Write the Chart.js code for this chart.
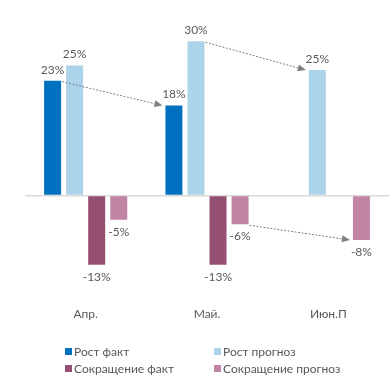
<!DOCTYPE html>
<html>
<head>
<meta charset="utf-8">
<script src="https://cdn.jsdelivr.net/npm/chart.js@4"></script>
<style>
  body { margin: 0; background: #fff; }
  #wrap { position: relative; width: 389px; height: 384px; }
  #legend { position: absolute; left: 65px; top: 344px; display: grid;
    grid-template-columns: 149px 160px; row-gap: 3px;
    font: 12px Lato, sans-serif; color: #595959; }
  #legend span.item { display: flex; align-items: center; height: 14px; white-space: nowrap; }
  #legend i { display: inline-block; width: 7px; height: 7px; margin-right: 2px; }
</style>
</head>
<body>
<div id="wrap">
  <canvas id="chart" width="389" height="384"></canvas>
  <div id="legend"></div>
</div>
<script>
var categories = ["Апр.", "Май.", "Июн.П"];
var growthFact = [22.7, 17.8, null];
var growthForecast = [25.7, 30.5, 24.8];
var cutFact = [-13.7, -13.7, null];
var cutForecast = [-4.8, -5.7, -8.8];
var growthFactText = ["23%", "18%", ""];
var growthForecastText = ["25%", "30%", "25%"];
var cutFactText = ["-13%", "-13%", ""];
var cutForecastText = ["-5%", "-6%", "-8%"];
// arrows: [dataset, from index, to index]
var arrows = [[0, 0, 1], [1, 1, 2], [3, 1, 2]];

var labelPlugin = {
  id: "barLabels",
  afterDatasetsDraw: function (chart) {
    var ctx = chart.ctx;
    ctx.save();
    ctx.font = "12px Lato, sans-serif";
    ctx.fillStyle = "#595959";
    ctx.textAlign = "center";
    ctx.textBaseline = "middle";
    chart.data.datasets.forEach(function (ds, i) {
      chart.getDatasetMeta(i).data.forEach(function (bar, j) {
        var txt = ds.texts[j];
        if (!txt || ds.data[j] == null) return;
        var y = ds.data[j] >= 0 ? bar.y - 11 : bar.y + 12;
        ctx.fillText(txt, bar.x, y);
      });
    });
    // dotted arrows
    ctx.strokeStyle = "#808080";
    ctx.fillStyle = "#808080";
    ctx.lineWidth = 1;
    arrows.forEach(function (a) {
      var b1 = chart.getDatasetMeta(a[0]).data[a[1]];
      var b2 = chart.getDatasetMeta(a[0]).data[a[2]];
      var x1 = b1.x + b1.width / 2 + 1, y1 = b1.y + 1;
      var x2 = b2.x - b2.width / 2 - 3, y2 = b2.y;
      var ang = Math.atan2(y2 - y1, x2 - x1);
      var hx = x2 - 8 * Math.cos(ang), hy = y2 - 8 * Math.sin(ang);
      ctx.setLineDash([2, 1.5]);
      ctx.beginPath();
      ctx.moveTo(x1, y1);
      ctx.lineTo(hx, hy);
      ctx.stroke();
      ctx.setLineDash([]);
      ctx.beginPath();
      ctx.moveTo(x2, y2);
      ctx.lineTo(hx + 3.5 * Math.sin(ang), hy - 3.5 * Math.cos(ang));
      ctx.lineTo(hx - 3.5 * Math.sin(ang), hy + 3.5 * Math.cos(ang));
      ctx.closePath();
      ctx.fill();
    });
    ctx.restore();
  }
};

var ctx = document.getElementById("chart").getContext("2d");
var chart = new Chart(ctx, {
  type: "bar",
  data: {
    labels: categories,
    datasets: [
      { label: "Рост факт", data: growthFact, texts: growthFactText, backgroundColor: "#0070C0" },
      { label: "Рост прогноз", data: growthForecast, texts: growthForecastText, backgroundColor: "#ABD4EA" },
      { label: "Сокращение факт", data: cutFact, texts: cutFactText, backgroundColor: "#954F72" },
      { label: "Сокращение прогноз", data: cutForecast, texts: cutForecastText, backgroundColor: "#C084A5" }
    ]
  },
  options: {
    responsive: false,
    animation: false,
    layout: { padding: { left: 25, right: 0, top: 18.5, bottom: 53 } },
    datasets: { bar: { categoryPercentage: 0.727, barPercentage: 0.77 } },
    plugins: { legend: { display: false }, tooltip: { enabled: false } },
    scales: {
      x: {
        grid: { display: false, drawTicks: false },
        border: { display: false },
        ticks: { color: "#595959", font: { family: "Lato", size: 12 }, padding: 10 }
      },
      y: {
        min: -20,
        max: 35,
        ticks: { display: false, stepSize: 5 },
        border: { display: false },
        grid: {
          drawTicks: false,
          lineWidth: 1.5,
          color: function (c) { return c.tick && c.tick.value === 0 ? "#d9d9d9" : "rgba(0,0,0,0)"; }
        }
      }
    }
  },
  plugins: [labelPlugin]
});

var legend = document.getElementById("legend");
chart.data.datasets.forEach(function (ds) {
  var item = document.createElement("span");
  item.className = "item";
  item.innerHTML = '<i style="background:' + ds.backgroundColor + '"></i>' + ds.label;
  legend.appendChild(item);
});
</script>
</body>
</html>
